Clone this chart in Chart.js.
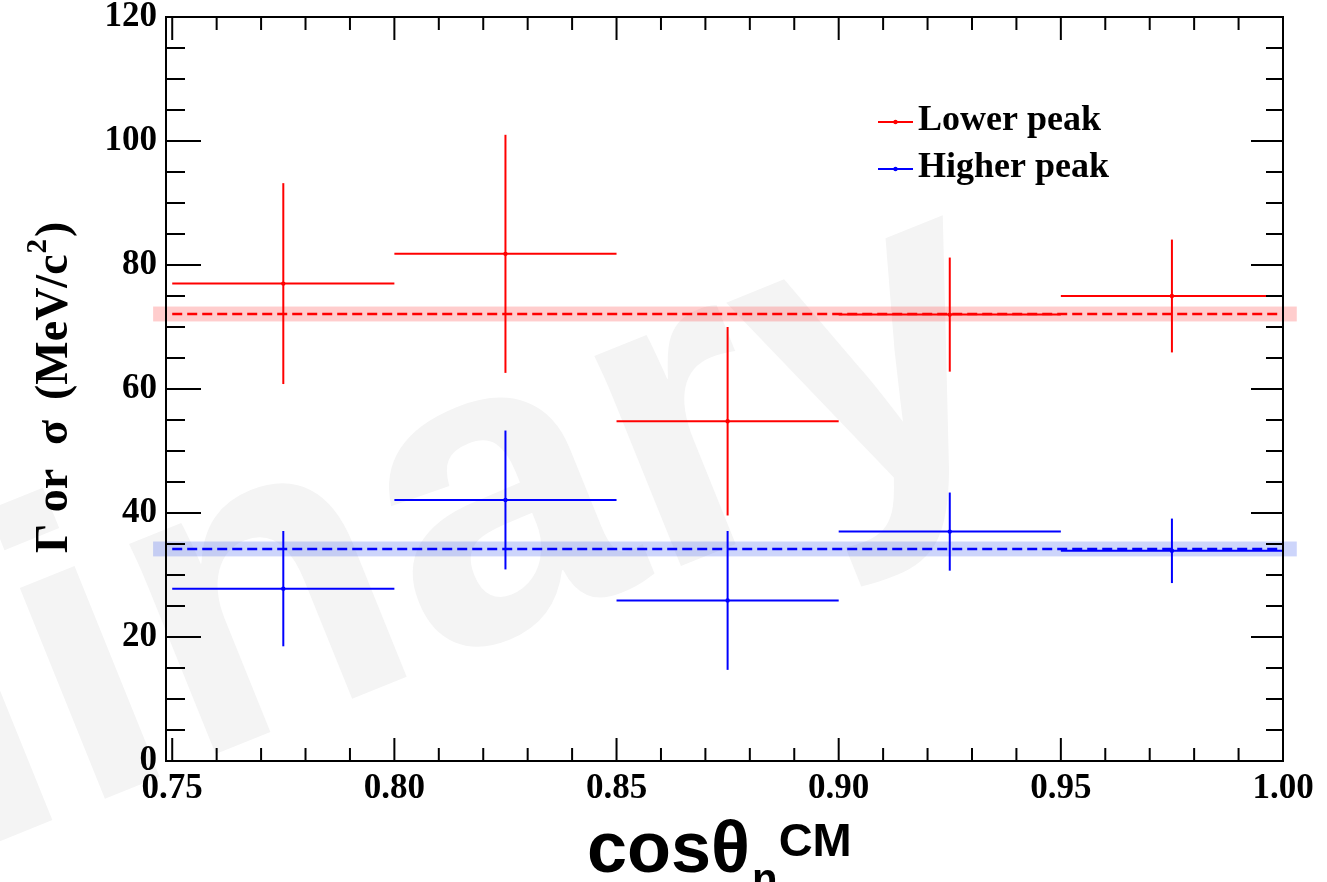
<!DOCTYPE html>
<html>
<head>
<meta charset="utf-8">
<script src="https://cdn.jsdelivr.net/npm/chart.js@4.4.1/dist/chart.umd.min.js"></script>
<style>
  html, body { margin: 0; padding: 0; background: #ffffff; }
  #wrap { width: 1327px; height: 882px; overflow: hidden; }
</style>
</head>
<body>
<div id="wrap"><canvas id="c" width="1327" height="882"></canvas></div>
<script>
// Bin edges in cos(theta_n^CM) and the bin centres
const binEdges = [0.75, 0.80, 0.85, 0.90, 0.95, 1.00];
const binCenters = [0.775, 0.825, 0.875, 0.925, 0.975];

// Fitted widths per bin (MeV/c^2) with their uncertainties
const lowerPeak = [77.0, 81.8, 54.8, 72.0, 75.0];
const lowerPeakErr = [16.2, 19.2, 15.2, 9.2, 9.1];
const higherPeak = [27.8, 42.1, 25.9, 37.0, 33.9];
const higherPeakErr = [9.3, 11.2, 11.2, 6.3, 5.2];

// Constant fits over all bins: value and uncertainty
const lowerFit = [72.1, 1.2];
const higherFit = [34.2, 1.2];
const fitBandRange = [0.7457, 1.0031];

const seriesNames = ['Lower peak', 'Higher peak'];
const seriesColors = ['#ff0000', '#0000ff'];
const bandColors = ['rgba(255,60,60,0.26)', 'rgba(70,100,240,0.27)'];

const xTickLabels = ['0.75', '0.80', '0.85', '0.90', '0.95', '1.00'];
const yTickLabels = ['0', '20', '40', '60', '80', '100', '120'];

const serifBold = '"Liberation Serif", "Times New Roman", serif';
const sansBold = '"Liberation Sans", Arial, sans-serif';

const series = [
  { values: lowerPeak, errors: lowerPeakErr, fit: lowerFit },
  { values: higherPeak, errors: higherPeakErr, fit: higherFit }
];

function line(ctx, x1, y1, x2, y2) {
  ctx.beginPath(); ctx.moveTo(x1, y1); ctx.lineTo(x2, y2); ctx.stroke();
}

// Faint watermark behind everything
const watermark = {
  id: 'watermark',
  beforeDraw(chart) {
    const ctx = chart.ctx;
    ctx.save();
    ctx.fillStyle = '#ffffff';
    ctx.fillRect(0, 0, chart.width, chart.height);
    ctx.translate(1030, 425);
    ctx.rotate(-22 * Math.PI / 180);
    ctx.font = 'bold 430px ' + sansBold;
    ctx.textAlign = 'right';
    ctx.textBaseline = 'alphabetic';
    ctx.fillStyle = '#f4f4f4';
    ctx.fillText('Preliminary', 0, 0);
    ctx.restore();
  }
};

// Uncertainty bands of the constant fits
const fitBands = {
  id: 'fitBands',
  beforeDatasetsDraw(chart) {
    const { ctx, scales: { x, y } } = chart;
    ctx.save();
    const xl = x.getPixelForValue(fitBandRange[0]);
    const xr = x.getPixelForValue(fitBandRange[1]);
    series.forEach((s, k) => {
      const yt = y.getPixelForValue(s.fit[0] + s.fit[1]);
      const yb = y.getPixelForValue(s.fit[0] - s.fit[1]);
      ctx.fillStyle = bandColors[k];
      ctx.fillRect(xl, yt, xr - xl, yb - yt);
    });
    ctx.restore();
  }
};

// Bin-width and vertical uncertainty bars
const errorBars = {
  id: 'errorBars',
  afterDatasetsDraw(chart) {
    const { ctx, scales: { x, y } } = chart;
    ctx.save();
    ctx.lineWidth = 2;
    ctx.lineCap = 'butt';
    series.forEach((s, k) => {
      ctx.strokeStyle = seriesColors[k];
      s.values.forEach((v, i) => {
        const xl = x.getPixelForValue(binEdges[i]);
        const xr = x.getPixelForValue(binEdges[i + 1]);
        const xc = x.getPixelForValue(binCenters[i]);
        const yc = y.getPixelForValue(v);
        line(ctx, xl, yc, xr, yc);
        line(ctx, xc, y.getPixelForValue(v + s.errors[i]), xc, y.getPixelForValue(v - s.errors[i]));
      });
    });
    ctx.restore();
  }
};

// Axis frame with inward major and minor ticks on all four sides
const frame = {
  id: 'frame',
  afterDraw(chart) {
    const { ctx, chartArea: { left, right, top, bottom }, scales: { x, y } } = chart;
    ctx.save();
    ctx.strokeStyle = '#000';
    ctx.lineWidth = 2;
    ctx.strokeRect(left, top, right - left, bottom - top);
    const xMajor = x.ticks.map(t => t.value);
    const xStep = xMajor[1] - xMajor[0];
    for (let i = 0; i < xMajor.length; i++) {
      for (let j = 0; j < 5; j++) {
        const v = xMajor[i] + j * xStep / 5;
        if (v > x.max + 1e-9) continue;
        const px = x.getPixelForValue(v);
        const len = j === 0 ? 23 : 13;
        line(ctx, px, bottom, px, bottom - len);
        line(ctx, px, top, px, top + len);
      }
    }
    const yMajor = y.ticks.map(t => t.value);
    const yStep = yMajor[1] - yMajor[0];
    for (let i = 0; i < yMajor.length; i++) {
      for (let j = 0; j < 4; j++) {
        const v = yMajor[i] + j * yStep / 4;
        if (v > y.max + 1e-9) continue;
        const py = y.getPixelForValue(v);
        line(ctx, left, py, left + (j === 0 ? 35 : 19), py);
        line(ctx, right, py, right - (j === 0 ? 32 : 17), py);
      }
    }
    ctx.restore();
  }
};

// Axis titles and legend
const annotations = {
  id: 'annotations',
  afterDraw(chart) {
    const ctx = chart.ctx;
    ctx.save();
    ctx.fillStyle = '#000';
    ctx.textBaseline = 'alphabetic';
    ctx.textAlign = 'left';

    // Y title, rotated, reading upwards
    ctx.save();
    ctx.translate(67, 553);
    ctx.rotate(-Math.PI / 2);
    ctx.font = 'bold 46px ' + serifBold;
    ctx.fillText('\u0393 or', 0, 0);
    ctx.fillText('\u03c3', 108, 0);
    ctx.fillText('(MeV/c', 153, 0);
    const w1 = ctx.measureText('(MeV/c').width;
    ctx.font = 'bold 29px ' + serifBold;
    ctx.fillText('2', 153 + w1 + 1, -21);
    const w2 = ctx.measureText('2').width;
    ctx.font = 'bold 46px ' + serifBold;
    ctx.fillText(')', 153 + w1 + w2 + 3, 0);
    ctx.restore();

    // X title
    ctx.font = 'bold 72px ' + sansBold;
    ctx.fillText('cos\u03b8', 587, 872);
    const wc = ctx.measureText('cos\u03b8').width;
    ctx.font = 'bold 42px ' + sansBold;
    ctx.fillText('n', 587 + wc + 2, 893);
    const wn = ctx.measureText('n').width;
    ctx.font = 'bold 47px ' + sansBold;
    ctx.fillText('CM', 587 + wc + wn + 3, 856);

    // Legend
    const rows = [122, 169];
    ctx.font = 'bold 36px ' + serifBold;
    seriesNames.forEach((name, k) => {
      ctx.strokeStyle = seriesColors[k];
      ctx.fillStyle = seriesColors[k];
      ctx.lineWidth = 2;
      line(ctx, 878, rows[k], 913, rows[k]);
      ctx.beginPath(); ctx.arc(895.5, rows[k], 2.2, 0, Math.PI * 2); ctx.fill();
      ctx.fillStyle = '#000';
      ctx.fillText(name, 918, rows[k] + 8);
    });
    ctx.restore();
  }
};

const tickFont = { family: serifBold, weight: 'bold', size: 35, lineHeight: 1 };

function fixPadding(s) {
  s.paddingTop = 0; s.paddingBottom = 0; s.paddingLeft = 0; s.paddingRight = 0;
}

new Chart(document.getElementById('c'), {
  type: 'scatter',
  data: {
    datasets: [
      {
        label: seriesNames[0],
        data: binCenters.map((c, i) => ({ x: c, y: lowerPeak[i] })),
        backgroundColor: seriesColors[0], borderColor: seriesColors[0],
        pointRadius: 2.2, pointBorderWidth: 0, order: 1
      },
      {
        label: seriesNames[1],
        data: binCenters.map((c, i) => ({ x: c, y: higherPeak[i] })),
        backgroundColor: seriesColors[1], borderColor: seriesColors[1],
        pointRadius: 2.2, pointBorderWidth: 0, order: 1
      },
      {
        label: 'fit lower',
        type: 'line',
        data: [{ x: binEdges[0], y: lowerFit[0] }, { x: binEdges[binEdges.length - 1], y: lowerFit[0] }],
        borderColor: seriesColors[0], borderWidth: 2.5, borderDash: [10, 5],
        pointRadius: 0, fill: false, order: 2
      },
      {
        label: 'fit higher',
        type: 'line',
        data: [{ x: binEdges[0], y: higherFit[0] }, { x: binEdges[binEdges.length - 1], y: higherFit[0] }],
        borderColor: seriesColors[1], borderWidth: 2.5, borderDash: [10, 5],
        pointRadius: 0, fill: false, order: 2
      }
    ]
  },
  options: {
    responsive: false,
    devicePixelRatio: 1,
    animation: false,
    layout: { padding: { top: 17, right: 44, left: 0, bottom: 0 } },
    plugins: { legend: { display: false }, tooltip: { enabled: false } },
    scales: {
      x: {
        type: 'linear', min: 0.7486, max: 1.0,
        grid: { display: false, drawTicks: false },
        border: { display: false },
        afterFit: s => { s.height = 121; fixPadding(s); },
        afterBuildTicks: s => {
          s.ticks = xTickLabels.map(t => ({ value: parseFloat(t) }));
        },
        ticks: {
          font: tickFont, color: '#000', padding: 10,
          maxRotation: 0, autoSkip: false,
          callback: v => v.toFixed(2)
        }
      },
      y: {
        min: 0, max: 120,
        grid: { display: false, drawTicks: false },
        border: { display: false },
        afterFit: s => { s.width = 166; fixPadding(s); },
        afterBuildTicks: s => {
          s.ticks = yTickLabels.map(t => ({ value: parseFloat(t) }));
        },
        ticks: {
          font: tickFont, color: '#000', padding: 9,
          callback: v => String(v)
        }
      }
    }
  },
  plugins: [watermark, fitBands, errorBars, frame, annotations]
});
</script>
</body>
</html>
